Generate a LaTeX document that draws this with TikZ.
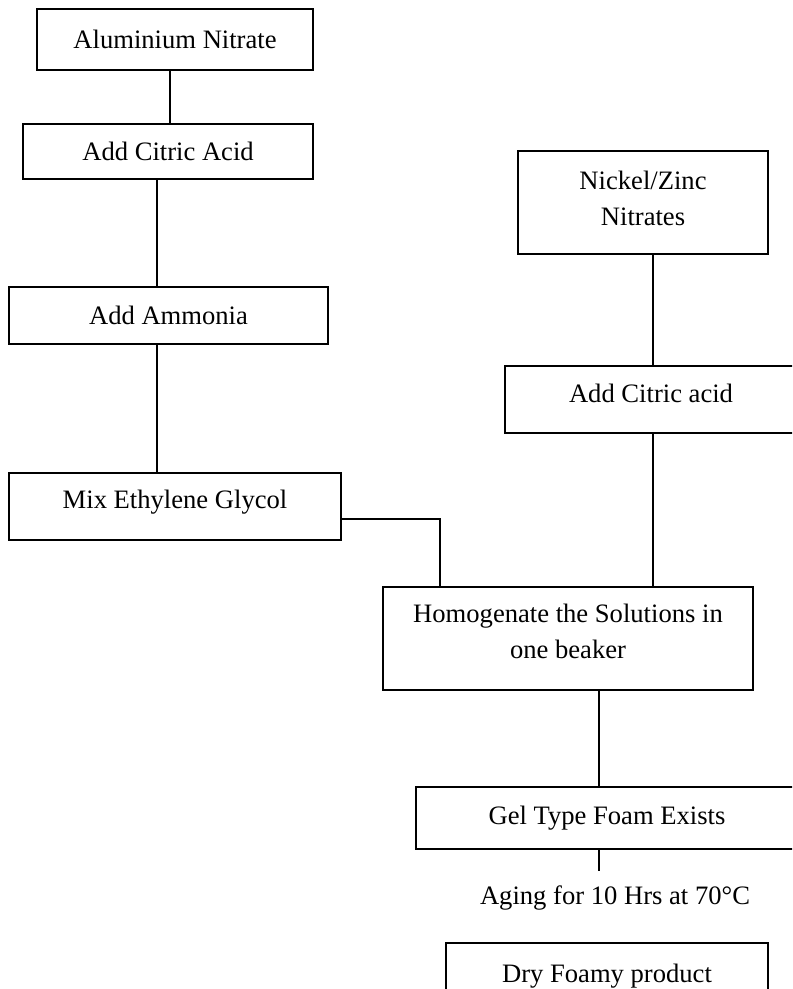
\documentclass[tikz,border=0pt]{standalone}
\usepackage{fontspec}
\setmainfont{Liberation Serif}
\usetikzlibrary{positioning,calc}
\newcommand{\px}{0.5pt}

\begin{document}
\begin{tikzpicture}[x=0.5pt,y=-0.5pt,
  stepbox/.style={rectangle,draw=black,line width=0.8pt,inner sep=0pt,
                  font=\fontsize{13.3}{18}\selectfont,align=center},
  link/.style={draw=black,line width=0.8pt},
  note/.style={inner sep=0pt,font=\fontsize{13.3}{18}\selectfont}
]
\useasboundingbox (0,0) rectangle (792,989);
\clip (0,0) rectangle (792,989);

% ---- Aluminium branch ----------------------------------------
\node[stepbox,minimum width=276*\px,minimum height=61*\px] (alnit)  at (175,39.5)  {Aluminium Nitrate};
\node[stepbox,minimum width=290*\px,minimum height=55*\px] (citA)   at (168,151.5) {Add Citric Acid};
\node[stepbox,minimum width=319*\px,minimum height=57*\px] (ammon)  at (168.5,315.5) {Add Ammonia};
\node[stepbox,minimum width=332*\px,minimum height=67*\px,text depth=7.5pt] (glycol) at (175,506.5) {Mix Ethylene Glycol};

% ---- Nickel/Zinc branch --------------------------------------
\node[stepbox,minimum width=250*\px,minimum height=103*\px,text depth=4.5pt] (nizn) at (643,202.5) {Nickel/Zinc\\Nitrates};
\node[stepbox,minimum width=292*\px,minimum height=67*\px,text depth=6pt] (citB) at (651,399.5) {Add Citric acid};

% ---- Common steps --------------------------------------------
\node[stepbox,minimum width=370*\px,minimum height=103*\px,text depth=7pt] (homog) at (568,638.5) {Homogenate the Solutions in\\one beaker};
\node[stepbox,minimum width=382*\px,minimum height=62*\px] (gel) at (607,818) {Gel Type Foam Exists};
\node[note] (aging) at (615,898) {Aging for 10 Hrs at 70\textdegree C};
\node[stepbox,minimum width=322*\px,minimum height=66*\px] (dry) at (607,976) {Dry Foamy product};
\coordinate (agetop) at ([yshift=7pt]aging.north);

% Connectors
\draw[link] ([xshift=-2.5pt]alnit.south) -- ([xshift=-2.5pt]alnit.south |- citA.north);
\draw[link] ([xshift=-5.5pt]citA.south) -- ([xshift=-5.5pt]citA.south |- ammon.north);
\draw[link] ([xshift=-5.75pt]ammon.south) -- ([xshift=-5.75pt]ammon.south |- glycol.north);
\draw[link] ([yshift=-6.25pt]glycol.east) -| ([xshift=-64pt]homog.north);
\draw[link] ([xshift=5pt]nizn.south) -- ([xshift=5pt]nizn.south |- citB.north);
\draw[link] ([xshift=1pt]citB.south) -- ([xshift=1pt]citB.south |- homog.north);
\draw[link] ([xshift=15.5pt]homog.south) -- ([xshift=15.5pt]homog.south |- gel.north);
\draw[link] ([xshift=-4pt]gel.south) -- ([xshift=-4pt]gel.south |- agetop);

\end{tikzpicture}
\end{document}
